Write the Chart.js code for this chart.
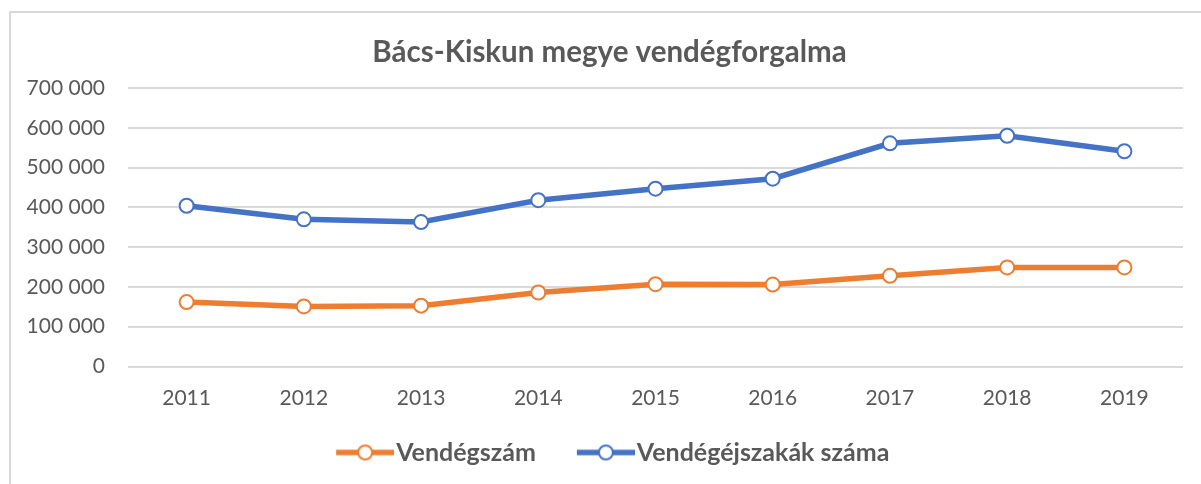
<!DOCTYPE html>
<html>
<head>
<meta charset="utf-8">
<script src="https://cdn.jsdelivr.net/npm/chart.js@4"></script>
<style>
  html, body { margin: 0; padding: 0; background: #ffffff; }
  #wrap { position: relative; width: 1201px; height: 484px; overflow: hidden; }
  #frame { position: absolute; left: 9px; top: 11px; width: 1300px; height: 600px; border: 2px solid #d9d9d9; box-sizing: border-box; }
  #box { position: absolute; left: 0; top: 0; width: 1201px; height: 484px; }
</style>
</head>
<body>
<div id="wrap">
  <div id="frame"></div>
  <div id="box"><canvas id="c"></canvas></div>
</div>
<script>
const categories = ['2011', '2012', '2013', '2014', '2015', '2016', '2017', '2018', '2019'];
const vendegszam = [162000, 151000, 153000, 186000, 207000, 206000, 228000, 249000, 249000];
const vendegejszakak = [404000, 370000, 363000, 418000, 447000, 472000, 561000, 580000, 541000];
const seriesNames = ['Vendégszám', 'Vendégéjszakák száma'];
const titleText = 'Bács-Kiskun megye vendégforgalma';
const yTickMin = 0, yTickMax = 700000, yTickStep = 100000;

const ORANGE = '#ED7D31';
const BLUE = '#4472C4';
const TEXT = '#595959';
const FONT = 'Lato, "Open Sans", sans-serif';

function fmt(v) {
  return String(v).replace(/\B(?=(\d{3})+(?!\d))/g, ' ');
}

function legendIcon(color) {
  const cv = document.createElement('canvas');
  cv.width = 99; cv.height = 20;
  const ctx = cv.getContext('2d');
  ctx.strokeStyle = color;
  ctx.lineWidth = 5.5;
  ctx.beginPath(); ctx.moveTo(41, 10); ctx.lineTo(99, 10); ctx.stroke();
  ctx.beginPath(); ctx.arc(70, 10, 7, 0, Math.PI * 2);
  ctx.fillStyle = '#ffffff'; ctx.fill();
  ctx.lineWidth = 2; ctx.stroke();
  return cv;
}

const icons = [legendIcon(ORANGE), legendIcon(BLUE)];

const shiftBlocks = {
  id: 'shiftBlocks',
  afterLayout(chart) {
    if (chart.titleBlock) { chart.titleBlock.left += 18; chart.titleBlock.right += 18; }
    if (chart.legend) { chart.legend.left += 6; chart.legend.right += 6; }
  }
};

new Chart(document.getElementById('c'), {
  type: 'line',
  plugins: [shiftBlocks],
  data: {
    labels: categories,
    datasets: [
      {
        label: seriesNames[0], data: vendegszam,
        borderColor: ORANGE, backgroundColor: ORANGE,
        borderWidth: 5.5, pointRadius: 7, pointHoverRadius: 7,
        pointBackgroundColor: '#ffffff', pointBorderColor: ORANGE, pointBorderWidth: 2,
        tension: 0
      },
      {
        label: seriesNames[1], data: vendegejszakak,
        borderColor: BLUE, backgroundColor: BLUE,
        borderWidth: 5.5, pointRadius: 7, pointHoverRadius: 7,
        pointBackgroundColor: '#ffffff', pointBorderColor: BLUE, pointBorderWidth: 2,
        tension: 0
      }
    ]
  },
  options: {
    responsive: true,
    maintainAspectRatio: false,
    animation: false,
    layout: { padding: { left: 0, right: 18, top: 0, bottom: 9 } },
    plugins: {
      tooltip: { enabled: false },
      title: {
        display: true, text: titleText, color: TEXT,
        font: { family: FONT, size: 29.5, weight: 'bold', lineHeight: 1.2 },
        padding: { top: 34.3, bottom: 18.3 }
      },
      legend: {
        position: 'bottom',
        labels: {
          color: TEXT,
          font: { family: FONT, size: 25, weight: 'bold' },
          usePointStyle: true,
          pointStyleWidth: 78,
          padding: 10.5,
          generateLabels(chart) {
            const items = Chart.defaults.plugins.legend.labels.generateLabels(chart);
            items.forEach((it, i) => { it.pointStyle = icons[i]; });
            return items;
          }
        }
      }
    },
    scales: {
      x: {
        offset: true,
        grid: { display: false, drawTicks: false },
        border: { display: false },
        ticks: { color: TEXT, font: { family: FONT, size: 21 }, padding: 19, maxRotation: 0 },
        afterFit(s) { s.height = 63; }
      },
      y: {
        min: yTickMin, max: yTickMax,
        grid: { color: '#d9d9d9', lineWidth: 2, drawTicks: false },
        border: { display: false },
        ticks: { stepSize: yTickStep, color: TEXT, font: { family: FONT, size: 21 }, padding: 23, callback: v => fmt(v) },
        afterFit(s) { s.width = 128; }
      }
    }
  }
});
</script>
</body>
</html>
